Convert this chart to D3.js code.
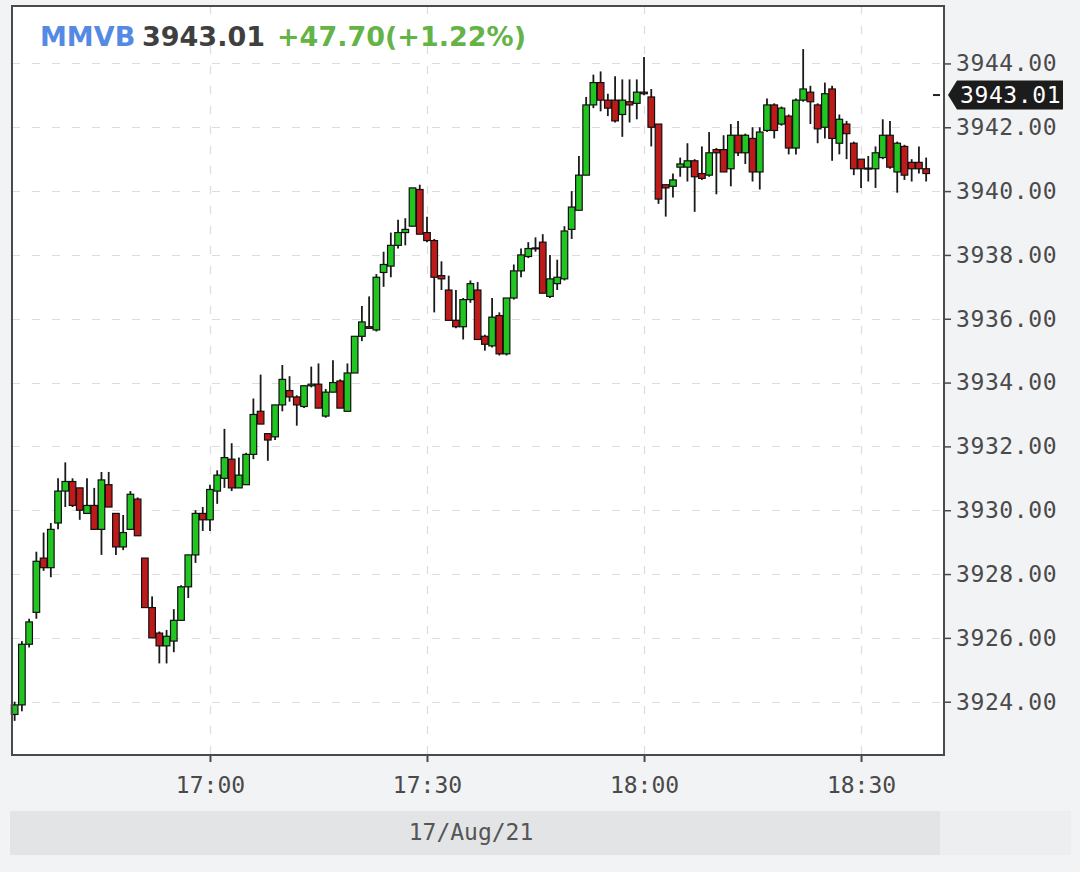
<!DOCTYPE html>
<html><head><meta charset="utf-8">
<script src="https://cdn.jsdelivr.net/npm/d3@7"></script>
<style>
html,body{margin:0;padding:0;background:#f2f3f5;}
svg{display:block;}
</style></head>
<body>
<svg id="chart" width="1080" height="872"></svg>
<script>
const times = ["16:33","16:34","16:35","16:36","16:37","16:38","16:39","16:40","16:41","16:42",
"16:43","16:44","16:45","16:46","16:47","16:48","16:49","16:50","16:51","16:52",
"16:53","16:54","16:55","16:56","16:57","16:58","16:59","17:00","17:01","17:02",
"17:03","17:04","17:05","17:06","17:07","17:08","17:09","17:10","17:11","17:12",
"17:13","17:14","17:15","17:16","17:17","17:18","17:19","17:20","17:21","17:22",
"17:23","17:24","17:25","17:26","17:27","17:28","17:29","17:30","17:31","17:32",
"17:33","17:34","17:35","17:36","17:37","17:38","17:39","17:40","17:41","17:42",
"17:43","17:44","17:45","17:46","17:47","17:48","17:49","17:50","17:51","17:52",
"17:53","17:54","17:55","17:56","17:57","17:58","17:59","18:00","18:01","18:02",
"18:03","18:04","18:05","18:06","18:07","18:08","18:09","18:10","18:11","18:12",
"18:13","18:14","18:15","18:16","18:17","18:18","18:19","18:20","18:21","18:22",
"18:23","18:24","18:25","18:26","18:27","18:28","18:29","18:30","18:31","18:32",
"18:33","18:34","18:35","18:36","18:37","18:38","18:39"];

const open = [3923.6,3923.9,3925.8,3926.8,3928.5,3928.2,3929.6,3930.6,3930.9,3930.7,
3929.9,3930.15,3929.4,3930.8,3929.9,3928.85,3929.4,3930.35,3928.5,3926.95,
3926.15,3925.75,3925.9,3926.55,3927.6,3928.6,3929.9,3929.7,3930.6,3931.0,
3931.6,3930.7,3930.8,3931.75,3933.1,3932.4,3932.3,3933.3,3933.75,3933.55,
3933.25,3933.9,3933.95,3932.95,3933.7,3934.05,3933.1,3934.3,3935.45,3935.75,
3935.65,3937.45,3937.65,3938.3,3938.7,3938.9,3940.05,3938.7,3938.45,3937.35,
3936.9,3935.95,3935.75,3936.6,3936.9,3935.45,3935.15,3936.1,3934.9,3936.65,
3937.5,3937.95,3938.2,3938.4,3936.7,3937.1,3937.25,3938.8,3939.4,3940.5,
3942.7,3943.4,3942.85,3942.85,3942.4,3942.8,3942.75,3943.1,3942.95,3942.1,
3940.2,3940.15,3940.75,3940.75,3940.95,3940.55,3940.5,3941.3,3941.3,3940.7,
3941.75,3941.2,3941.65,3940.6,3941.9,3942.7,3942.1,3942.35,3941.35,3942.85,
3943.1,3942.7,3942.0,3943.2,3941.5,3942.1,3941.5,3941.0,3940.72,3940.7,
3941.05,3941.75,3940.6,3941.4,3940.9,3940.9,3940.7];

const high = [3924.0,3925.9,3926.6,3928.7,3929.3,3929.6,3931.0,3931.5,3931.0,3930.7,
3931.0,3930.7,3931.2,3931.2,3929.9,3929.85,3930.6,3930.4,3928.5,3927.3,
3926.2,3926.25,3926.9,3927.65,3928.6,3930.0,3930.1,3930.8,3931.25,3932.55,
3932.1,3931.65,3931.8,3933.5,3934.25,3932.4,3933.3,3934.55,3934.2,3933.6,
3933.9,3934.5,3934.6,3933.8,3934.7,3934.1,3934.6,3935.45,3936.4,3936.7,
3937.4,3938.1,3938.7,3939.1,3939.15,3940.1,3940.2,3939.2,3938.5,3937.8,
3937.35,3936.9,3936.65,3937.2,3937.15,3935.5,3936.65,3936.2,3936.65,3937.7,
3938.2,3938.4,3938.55,3938.65,3938.0,3937.85,3938.9,3940.0,3941.1,3942.95,
3943.65,3943.75,3943.05,3943.6,3943.5,3943.5,3943.5,3944.2,3943.2,3942.1,
3940.2,3940.55,3941.05,3941.5,3941.0,3941.4,3941.85,3941.35,3941.75,3942.1,
3942.2,3941.8,3942.0,3942.0,3942.9,3942.75,3942.65,3942.4,3942.9,3944.45,
3943.3,3942.75,3943.4,3943.3,3942.4,3942.2,3941.55,3941.0,3941.1,3941.4,
3942.25,3942.2,3941.55,3941.45,3941.0,3941.4,3941.05];

const low = [3923.4,3923.7,3925.7,3926.6,3928.1,3927.9,3929.4,3930.1,3930.1,3929.7,
3929.9,3929.4,3928.6,3930.1,3928.6,3928.75,3929.4,3929.2,3926.95,3926.0,
3925.2,3925.2,3925.55,3926.55,3927.25,3928.35,3929.35,3929.35,3930.2,3930.7,
3930.6,3930.7,3930.8,3931.6,3932.7,3931.55,3932.2,3933.1,3933.4,3932.65,
3933.2,3933.85,3933.2,3932.9,3933.7,3933.2,3933.1,3934.3,3935.3,3935.7,
3935.6,3937.0,3937.3,3938.2,3938.3,3938.9,3938.65,3938.4,3936.2,3936.9,
3935.95,3935.7,3935.35,3936.5,3935.35,3935.0,3935.1,3934.85,3934.85,3936.6,
3937.3,3937.9,3938.1,3936.8,3936.65,3936.9,3937.2,3938.5,3939.4,3940.5,
3942.6,3942.5,3942.35,3942.15,3941.7,3942.15,3942.25,3943.0,3941.4,3939.6,
3939.2,3939.8,3940.45,3940.3,3939.35,3940.35,3940.45,3939.9,3940.6,3940.15,
3941.1,3940.85,3940.3,3940.05,3941.85,3941.65,3942.05,3941.15,3941.15,3942.8,
3942.1,3941.5,3941.65,3940.95,3941.15,3941.0,3940.5,3940.1,3940.3,3940.1,
3941.0,3940.7,3939.95,3940.35,3940.3,3940.55,3940.3];

const close = [3923.9,3925.8,3926.5,3928.4,3928.2,3929.4,3930.6,3930.9,3930.15,3930.0,
3930.15,3929.4,3930.95,3930.1,3928.85,3929.3,3930.5,3929.2,3926.95,3926.0,
3925.75,3926.05,3926.55,3927.6,3928.6,3929.9,3929.7,3930.65,3931.1,3931.65,
3930.7,3931.1,3931.75,3933.0,3932.7,3932.2,3933.3,3934.1,3933.55,3933.3,
3933.9,3933.95,3933.2,3933.7,3934.0,3933.2,3934.3,3935.45,3935.9,3935.7,
3937.3,3937.7,3938.3,3938.7,3938.8,3940.1,3938.65,3938.45,3937.3,3937.25,
3935.95,3935.75,3936.6,3937.1,3935.35,3935.2,3936.05,3934.9,3936.65,3937.5,
3938.0,3938.2,3938.22,3936.8,3937.25,3937.3,3938.75,3939.5,3940.5,3942.7,
3943.4,3942.85,3942.6,3942.2,3942.85,3942.7,3943.1,3943.05,3942.0,3939.75,
3940.1,3940.35,3940.85,3940.95,3940.45,3940.4,3941.2,3941.2,3940.6,3941.75,
3941.2,3941.75,3940.6,3941.85,3942.7,3941.9,3942.6,3941.35,3942.85,3943.2,
3942.8,3941.95,3943.05,3941.65,3942.25,3941.8,3940.7,3940.7,3940.7,3941.2,
3941.75,3940.75,3941.5,3940.5,3940.7,3940.7,3940.55];

const xTickLabels = ["17:00","17:30","18:00","18:30"];
const yTickValues = [3924,3926,3928,3930,3932,3934,3936,3938,3940,3942,3944];
const xDomain = ["16:32:38","18:41:28"];
const yDomain = [3922.33, 3945.80];
const symbol = "MMVB";
const lastPrice = 3943.01;
const change = "+47.70(+1.22%)";
const dateLabel = "17/Aug/21";

const parseHM = d3.timeParse("%H:%M");
const parseHMS = d3.timeParse("%H:%M:%S");

const L = 12, R = 944, T = 6, B = 755;
const svg = d3.select("#chart");
const mono = "'DejaVu Sans Mono', monospace";

const x = d3.scaleTime().domain(xDomain.map(parseHMS)).range([L, R]);
const y = d3.scaleLinear().domain(yDomain).range([B, T]);

// date band
svg.append("rect").attr("x", 940).attr("y", 811).attr("width", 131).attr("height", 44).attr("fill", "#eceef0");
svg.append("rect").attr("x", 10).attr("y", 811).attr("width", 930).attr("height", 44).attr("fill", "#e3e4e6");
svg.append("text").attr("x", 471).attr("y", 840).attr("text-anchor", "middle")
  .attr("font-family", mono).attr("font-size", 23).attr("fill", "#555").text(dateLabel);

// plot background
svg.append("rect").attr("x", L).attr("y", T).attr("width", R - L).attr("height", B - T).attr("fill", "#ffffff");

// grid
const gridG = svg.append("g");
gridG.selectAll("line.h").data(yTickValues).join("line")
  .attr("x1", L).attr("x2", R).attr("y1", d => Math.round(y(d)) + 0.5).attr("y2", d => Math.round(y(d)) + 0.5)
  .attr("stroke", "#dcdcdc").attr("stroke-width", 1.2).attr("stroke-dasharray", "8 12");
gridG.selectAll("line.v").data(xTickLabels).join("line")
  .attr("x1", d => Math.round(x(parseHM(d))) + 0.5).attr("x2", d => Math.round(x(parseHM(d))) + 0.5)
  .attr("y1", T).attr("y2", B)
  .attr("stroke", "#dcdcdc").attr("stroke-width", 1.2).attr("stroke-dasharray", "8 12");

// candles
const data = times.map((t, i) => ({t: parseHM(t), o: open[i], h: high[i], l: low[i], c: close[i]}));
const bw = 6.6;
const cg = svg.append("g");
cg.selectAll("line.wick").data(data).join("line")
  .attr("x1", d => x(d.t)).attr("x2", d => x(d.t))
  .attr("y1", d => y(d.h)).attr("y2", d => y(d.l))
  .attr("stroke", "#1a1a1a").attr("stroke-width", 1.8);
cg.selectAll("rect.body").data(data).join("rect")
  .attr("x", d => x(d.t) - bw / 2)
  .attr("y", d => y(Math.max(d.o, d.c)))
  .attr("width", bw)
  .attr("height", d => Math.max(1, Math.abs(y(d.o) - y(d.c))))
  .attr("fill", d => d.c >= d.o ? "#22c422" : "#bf1a1a")
  .attr("stroke", "#111").attr("stroke-width", 1.2);

// frame
svg.append("rect").attr("x", L).attr("y", T).attr("width", R - L).attr("height", B - T)
  .attr("fill", "none").attr("stroke", "#4a4a4a").attr("stroke-width", 2);

// x axis
const xAxis = d3.axisBottom(x).tickValues(xTickLabels.map(parseHM)).tickFormat(d3.timeFormat("%H:%M")).tickSize(6).tickSizeOuter(0);
const xg = svg.append("g").attr("transform", `translate(0,${B + 1})`).call(xAxis);
xg.select(".domain").remove();
xg.selectAll("line").attr("stroke", "#4a4a4a").attr("stroke-width", 2);
xg.selectAll("text").attr("font-family", mono).attr("font-size", 23).attr("fill", "#4a4a4a").attr("dy", "1.2em");

// y axis (right)
const yAxis = d3.axisRight(y).tickValues(yTickValues).tickFormat(d3.format(".2f")).tickSize(7).tickPadding(5);
const yg = svg.append("g").attr("transform", `translate(${R},0)`).call(yAxis);
yg.select(".domain").remove();
yg.selectAll("line").attr("stroke", "#4a4a4a").attr("stroke-width", 1.5);
yg.selectAll("text").attr("font-family", mono).attr("font-size", 23).attr("fill", "#4a4a4a")
  .attr("letter-spacing", "0.6px");

// last price marker
const py = y(lastPrice);
svg.append("line").attr("x1", 933).attr("x2", 940).attr("y1", py).attr("y2", py).attr("stroke", "#222").attr("stroke-width", 2);
svg.append("path")
  .attr("d", `M948,${py} L957,${py - 14.5} L1063,${py - 14.5} L1063,${py + 14.5} L957,${py + 14.5} Z`)
  .attr("fill", "#1c1c1c");
svg.append("text").attr("x", 960).attr("y", py).attr("dy", "0.36em")
  .attr("font-family", mono).attr("font-size", 23).attr("fill", "#ffffff").attr("letter-spacing", "0.6px")
  .text(d3.format(".2f")(lastPrice));

// header
const hdr = svg.append("text").attr("y", 46).attr("font-family", "'DejaVu Sans', sans-serif")
  .attr("font-weight", "bold").attr("font-size", 27);
hdr.append("tspan").attr("x", 40).attr("fill", "#5589e3").text(symbol);
hdr.append("tspan").attr("x", 142).attr("fill", "#3f3f3f").text(d3.format(".2f")(lastPrice));
hdr.append("tspan").attr("x", 277).attr("fill", "#63b346").text(change);
</script>
</body></html>
